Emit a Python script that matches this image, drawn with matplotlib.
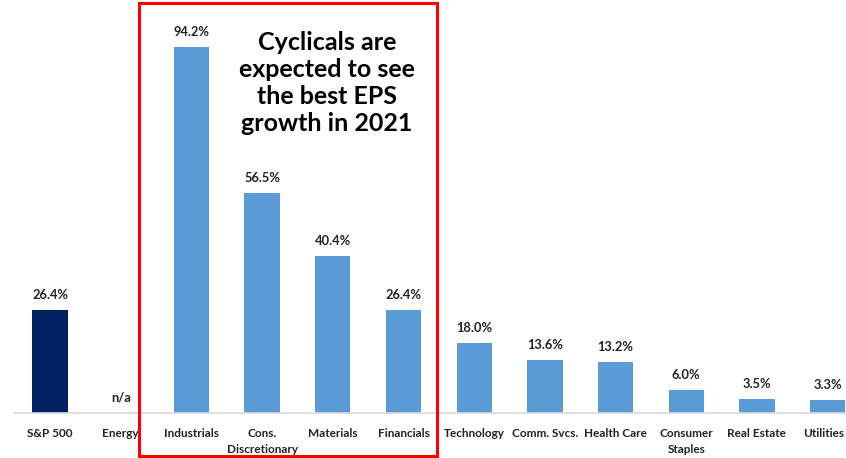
import matplotlib
matplotlib.use("Agg")
import matplotlib.pyplot as plt
import matplotlib.transforms as mtransforms
from matplotlib.patches import Rectangle

plt.rcParams['font.family'] = ['Lato', 'DejaVu Sans']

categories = ["S&P 500", "Energy", "Industrials", "Cons.\nDiscretionary", "Materials",
              "Financials", "Technology", "Comm. Svcs.", "Health Care",
              "Consumer\nStaples", "Real Estate", "Utilities"]
eps_growth = [26.4, None, 94.2, 56.5, 40.4, 26.4, 18.0, 13.6, 13.2, 6.0, 3.5, 3.3]
value_labels = ["26.4%", "n/a", "94.2%", "56.5%", "40.4%", "26.4%", "18.0%",
                "13.6%", "13.2%", "6.0%", "3.5%", "3.3%"]

W, H = 846, 458
fig = plt.figure(figsize=(W / 100, H / 100), dpi=100)
ax = fig.add_axes([14 / W, 45 / H, (W - 14) / W, (H - 45) / H])

navy = "#002060"
blue = "#5B9BD5"
xs = list(range(len(categories)))
for i, (v, lab) in enumerate(zip(eps_growth, value_labels)):
    if v is None:
        ax.text(i, 2.5, lab, ha="center", va="bottom", fontsize=9.3,
                fontweight="bold", color="#222222")
        continue
    ax.bar(i, v, width=0.5, color=navy if i == 0 else blue, zorder=2)
    ax.annotate(lab, (i, v), xytext=(0, 6.5), textcoords="offset points",
                ha="center", va="bottom", fontsize=9.3, fontweight="bold",
                color="#222222")

ax.set_xlim(-0.51, 11.26)
ax.set_ylim(0, (H - 45) / 3.89)
ax.set_xticks(xs)
ax.set_xticklabels(categories, fontsize=8.5, fontweight="bold", color="#222222",
                   linespacing=1.55)
ax.tick_params(axis="x", length=0, pad=11)
ax.set_yticks([])
for s in ["top", "right", "left"]:
    ax.spines[s].set_visible(False)
ax.spines["bottom"].set_color("#D9D9D9")
ax.spines["bottom"].set_linewidth(1.2)

# keep the last category label inside the canvas
last = ax.get_xticklabels()[-1]
last.set_transform(last.get_transform() +
                   mtransforms.ScaledTranslation(-4 / 100, 0, fig.dpi_scale_trans))

# highlight box around the cyclical sectors
fig.patches.append(Rectangle((139 / W, 1 - 456 / H), (437 - 139) / W, (456 - 3) / H,
                             transform=fig.transFigure, fill=False,
                             edgecolor="#FF0000", linewidth=2.2, zorder=5))
fig.text(327 / W, 1 - 83 / H,
         "Cyclicals are\nexpected to see\nthe best EPS\ngrowth in 2021",
         ha="center", va="center", fontsize=18, fontweight="bold",
         color="black", linespacing=1.22)

fig.savefig("out.png", dpi=100)
